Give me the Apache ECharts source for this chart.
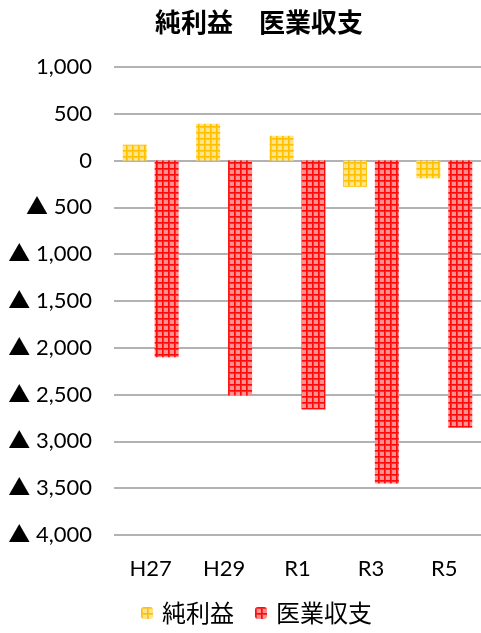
<!DOCTYPE html>
<html>
<head>
<meta charset="utf-8">
<script src="https://cdn.jsdelivr.net/npm/echarts@6/dist/echarts.min.js"></script>
<style>
html, body { margin: 0; padding: 0; background: #fff; }
#chart { width: 481px; height: 633px; }
</style>
</head>
<body>
<div id="chart"></div>
<script>
// 年度
var years = ['H27', 'H29', 'R1', 'R3', 'R5'];
// 純利益
var netProfit = [170, 395, 265, -280, -190];
// 医業収支
var medicalBalance = [-2100, -2510, -2660, -3450, -2855];

var font = 'Lato, "Noto Sans CJK JP", sans-serif';
var cjk = '"Noto Sans CJK JP", sans-serif';

// 格子柄のパターンを作る
function makePattern(base, light, dark) {
	var c = document.createElement('canvas');
	c.width = 6; c.height = 6;
	var ctx = c.getContext('2d');
	ctx.fillStyle = light;
	ctx.fillRect(0, 0, 6, 6);
	ctx.fillStyle = base;
	ctx.fillRect(0, 0, 6, 2);
	ctx.fillRect(0, 0, 2, 6);
	ctx.fillStyle = dark;
	ctx.fillRect(0, 0, 1, 6);
	ctx.fillRect(0, 0, 6, 1);
	return { image: c, repeat: 'repeat' };
}
var yellowPat = makePattern('#FFCA3A', '#FFE48A', '#FFC000');
var redPat = makePattern('#FF3030', '#FF9090', '#FF0A0A');

function fmt(v) {
	var s = Math.abs(v).toString().replace(/\B(?=(\d{3})+(?!\d))/g, ',');
	return v < 0 ? '▲ ' + s : s;
}

var myChart = echarts.init(document.getElementById('chart'));
myChart.setOption({
	animation: false,
	title: {
		text: '純利益　医業収支',
		left: 254, top: 4, textAlign: 'center',
		textStyle: { fontFamily: cjk, fontSize: 26, fontWeight: 'bold', color: '#000' }
	},
	legend: {
		bottom: 3, left: 136,
		itemWidth: 12, itemHeight: 12, itemGap: 21,
		textStyle: { fontFamily: cjk, fontSize: 24, color: '#000', padding: [0, 0, 0, 4] },
		data: ['純利益', '医業収支']
	},
	grid: { left: 114, right: 0, top: 67, bottom: 98 },
	xAxis: {
		type: 'category',
		data: years,
		axisLine: { show: false, onZero: false },
		axisTick: { show: false },
		axisLabel: { margin: 23, fontFamily: font, fontSize: 22, color: '#000' }
	},
	yAxis: {
		type: 'value',
		min: -4000, max: 1000, interval: 500,
		axisLine: { show: false },
		axisTick: { show: false },
		axisLabel: { margin: 22, fontFamily: font, fontSize: 22, color: '#000', formatter: fmt },
		splitLine: { lineStyle: { color: '#999', width: 1.5 } }
	},
	series: [
		{
			name: '純利益', type: 'bar', data: netProfit,
			barWidth: 24, barGap: '33%',
			itemStyle: { color: yellowPat }
		},
		{
			name: '医業収支', type: 'bar', data: medicalBalance,
			barWidth: 24,
			itemStyle: { color: redPat }
		}
	]
});
</script>
</body>
</html>
